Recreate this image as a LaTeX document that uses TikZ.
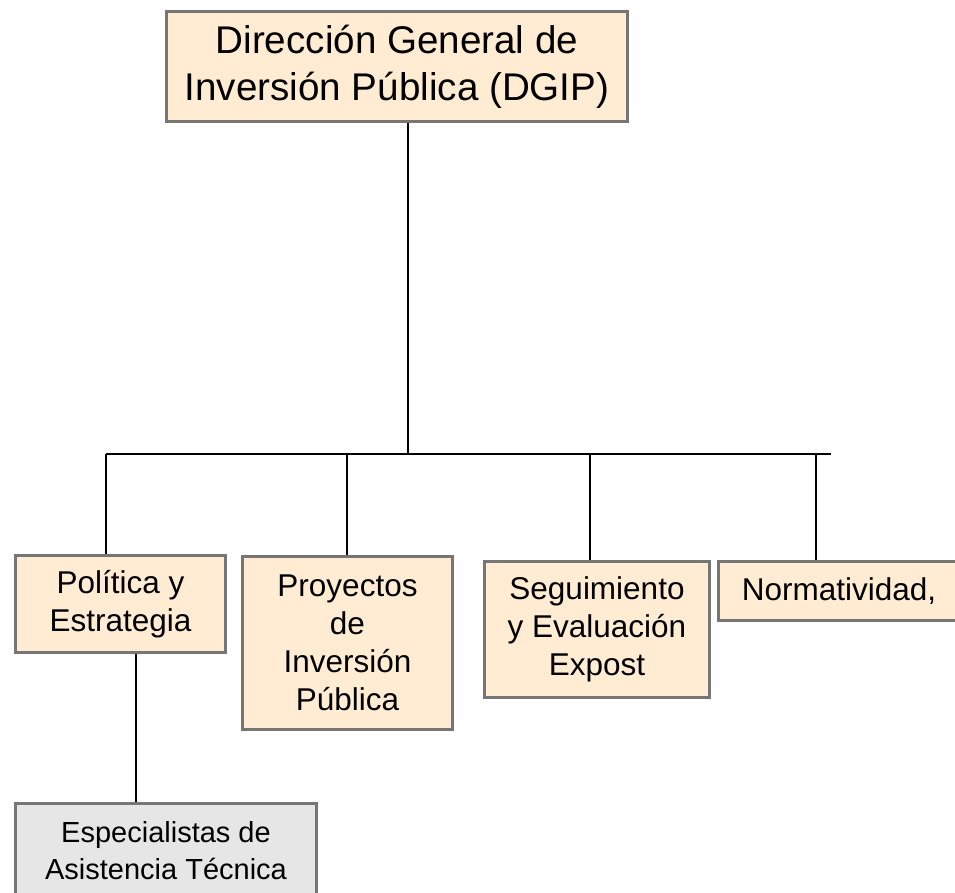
\documentclass[tikz,border=0pt]{standalone}
\usepackage{fontspec}
\setmainfont{Liberation Sans}
\definecolor{peach}{RGB}{255,236,211}
\definecolor{boxgray}{RGB}{230,230,230}
\definecolor{edgegray}{RGB}{118,118,118}
\begin{document}
\begin{tikzpicture}[x=1pt,y=-1pt,
    unit/.style={draw=edgegray,line width=2.6pt,fill=peach,align=center,
        inner sep=0pt,font=\fontsize{31.5}{38.2}\selectfont},
    link/.style={line width=2.8pt,black}]
                            % Page
                            \useasboundingbox (0,0) rectangle (955,892);
                            \clip (0,0) rectangle (955,892);

                            % Boxes
                            \node[unit,minimum width=461,minimum height=110,
                                font=\fontsize{38.6}{47}\selectfont]
                                (dg) at (397,66.5) {Dirección General de\\Inversión Pública (DGIP)};
                            \node[unit,minimum width=210,minimum height=97]
                                (u1) at (120.5,604) {Política y\\Estrategia};
                            \node[unit,minimum width=210,minimum height=173]
                                (u2) at (347.5,643) {Proyectos\\de\\Inversión\\Pública};
                            \node[unit,minimum width=225,minimum height=136]
                                (u3) at (597,629.5) {Seguimiento\\y Evaluación\\Expost};
                            \node[unit,minimum width=241,minimum height=59]
                                (u4) at (839,591) {Normatividad,};
                            \node[unit,fill=boxgray,minimum width=301,minimum height=95,
                                font=\fontsize{29}{37}\selectfont]
                                (e1) at (166,851) {Especialistas de\\Asistencia Técnica};

                            % Bus
                            \coordinate (j0) at (408,454);
                            \coordinate (j1) at (106,454);
                            \coordinate (j2) at (347,454);
                            \coordinate (j3) at (590,454);
                            \coordinate (j4) at (816,454);
                            \coordinate (jr) at (831,454);
                            \coordinate (k1) at (136,700);

                            % Lines
                            \draw[link] (dg.south -| j0) -- (j0);
                            \draw[link] (j1) -- (jr);
                            \draw[link] (j1) -- (j1 |- u1.north);
                            \draw[link] (j2) -- (j2 |- u2.north);
                            \draw[link] (j3) -- (j3 |- u3.north);
                            \draw[link] (j4) -- (j4 |- u4.north);
                            \draw[link] (u1.south -| k1) -- (e1.north -| k1);
                      \end{tikzpicture}
\end{document}
